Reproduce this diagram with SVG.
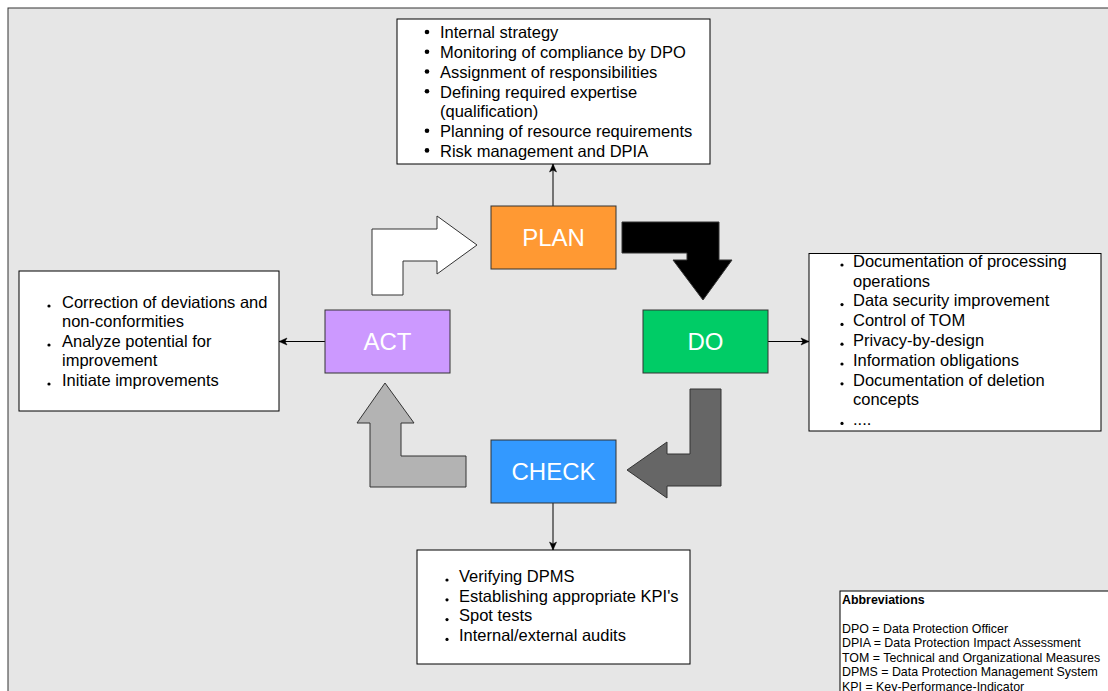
<svg xmlns="http://www.w3.org/2000/svg" width="1108" height="691" viewBox="0 0 1108 691">
<defs>
<style>
.t{font-family:"Liberation Sans",Arial,sans-serif;font-size:16.5px;fill:#000}
.lbl{font-family:"Liberation Sans",Arial,sans-serif;font-size:24px;fill:#fff;text-anchor:middle}
.ab{font-family:"Liberation Sans",Arial,sans-serif;font-size:12.4px;fill:#000}
.box{fill:#fff;stroke:#000;stroke-width:1}
.node{stroke:#333;stroke-width:1}
.conn{stroke:#000;stroke-width:1;fill:none}
.arr{stroke:#333;stroke-width:1}
</style>
<marker id="ah" markerUnits="userSpaceOnUse" markerWidth="10" markerHeight="10" viewBox="0 0 10 10" refX="9" refY="5" orient="auto">
<path d="M1,1.5 L9,5 L1,8.5 L3,5 Z" fill="#000" stroke="#000" stroke-width="0.5"/>
</marker>
</defs>
<rect x="8" y="8" width="1120" height="700" fill="#E6E6E6" stroke="#333" stroke-width="1"/>

<g id="connectors">
<line class="conn" x1="553" y1="206" x2="553" y2="164" marker-end="url(#ah)"/>
<line class="conn" x1="768" y1="341.5" x2="809" y2="341.5" marker-end="url(#ah)"/>
<line class="conn" x1="325" y1="341.5" x2="279" y2="341.5" marker-end="url(#ah)"/>
<line class="conn" x1="553" y1="503" x2="553" y2="550" marker-end="url(#ah)"/>
<polygon class="arr" fill="#fff" points="372,295 372,229 437,229 437,216 477,245 437,274 437,261 403,261 403,295"/>
<polygon class="arr" fill="#000" points="622,222 719,222 719,260 732,260 703,300 673,260 687,260 687,253 622,253"/>
<polygon class="arr" fill="#666" points="690,389 721,389 721,486 667,486 667,498 627,470 667,442 667,454 690,454"/>
<polygon class="arr" fill="#B3B3B3" points="385,383 414,423 401,423 401,456 466,456 466,487 370,487 370,423 357,423"/>
</g>

<g id="plan">
<rect class="node" x="491" y="206" width="125" height="63" fill="#FF9933"/>
<text class="lbl" x="553.5" y="246">PLAN</text>
</g>
<g id="do">
<rect class="node" x="643" y="310" width="125" height="63" fill="#00CC66"/>
<text class="lbl" x="705.5" y="350">DO</text>
</g>
<g id="check">
<rect class="node" x="491" y="440" width="125" height="63" fill="#3399FF"/>
<text class="lbl" x="553.5" y="480">CHECK</text>
</g>
<g id="act">
<rect class="node" x="325" y="310" width="125" height="63" fill="#CC99FF"/>
<text class="lbl" x="387.5" y="350">ACT</text>
</g>

<g id="plan-box">
<rect class="box" x="397" y="19" width="313" height="145"/>
<g fill="#000">
<circle cx="427" cy="32" r="2.3"/><circle cx="427" cy="51.7" r="2.3"/><circle cx="427" cy="71.5" r="2.3"/><circle cx="427" cy="91.2" r="2.3"/><circle cx="427" cy="130.7" r="2.3"/><circle cx="427" cy="150.4" r="2.3"/>
</g>
<text class="t" x="440" y="38.3">Internal strategy</text>
<text class="t" x="440" y="58">Monitoring of compliance by DPO</text>
<text class="t" x="440" y="77.8">Assignment of responsibilities</text>
<text class="t" x="440" y="97.5">Defining required expertise</text>
<text class="t" x="440" y="117.2">(qualification)</text>
<text class="t" x="440" y="137">Planning of resource requirements</text>
<text class="t" x="440" y="156.7">Risk management and DPIA</text>
</g>

<g id="do-box">
<rect class="box" x="809" y="253.5" width="292" height="177.5"/>
<g fill="#000">
<circle cx="842" cy="265" r="1.6"/><circle cx="842" cy="304.6" r="1.6"/><circle cx="842" cy="324.4" r="1.6"/><circle cx="842" cy="344.2" r="1.6"/><circle cx="842" cy="364" r="1.6"/><circle cx="842" cy="383.8" r="1.6"/><circle cx="842" cy="423.4" r="1.6"/>
</g>
<text class="t" x="853" y="266.7">Documentation of processing</text>
<text class="t" x="853" y="286.5">operations</text>
<text class="t" x="853" y="306.3">Data security improvement</text>
<text class="t" x="853" y="326.1">Control of TOM</text>
<text class="t" x="853" y="345.9">Privacy-by-design</text>
<text class="t" x="853" y="365.7">Information obligations</text>
<text class="t" x="853" y="385.5">Documentation of deletion</text>
<text class="t" x="853" y="405.3">concepts</text>
<text class="t" x="853" y="425.1">....</text>
</g>

<g id="act-box">
<rect class="box" x="19" y="271" width="260" height="140"/>
<g fill="#000">
<circle cx="49" cy="306" r="1.6"/><circle cx="49" cy="345" r="1.6"/><circle cx="49" cy="384" r="1.6"/>
</g>
<text class="t" x="62" y="307.5">Correction of deviations and</text>
<text class="t" x="62" y="327">non-conformities</text>
<text class="t" x="62" y="346.5">Analyze potential for</text>
<text class="t" x="62" y="366">improvement</text>
<text class="t" x="62" y="385.5">Initiate improvements</text>
</g>

<g id="check-box">
<rect class="box" x="417" y="550" width="273" height="114"/>
<g fill="#000">
<circle cx="447" cy="580" r="1.6"/><circle cx="447" cy="599.8" r="1.6"/><circle cx="447" cy="619.6" r="1.6"/><circle cx="447" cy="639.4" r="1.6"/>
</g>
<text class="t" x="459" y="581.7">Verifying DPMS</text>
<text class="t" x="459" y="601.5">Establishing appropriate KPI's</text>
<text class="t" x="459" y="621.3">Spot tests</text>
<text class="t" x="459" y="641">Internal/external audits</text>
</g>

<g id="abbreviations">
<rect x="840" y="591" width="280" height="110" fill="#fff" stroke="#000" stroke-width="1"/>
<text class="ab" x="842" y="603.5" font-weight="bold">Abbreviations</text>
<text class="ab" x="842" y="632.5">DPO = Data Protection Officer</text>
<text class="ab" x="842" y="647">DPIA = Data Protection Impact Assessment</text>
<text class="ab" x="842" y="661.5">TOM = Technical and Organizational Measures</text>
<text class="ab" x="842" y="676">DPMS = Data Protection Management System</text>
<text class="ab" x="842" y="690.5">KPI = Key-Performance-Indicator</text>
</g>
</svg>
